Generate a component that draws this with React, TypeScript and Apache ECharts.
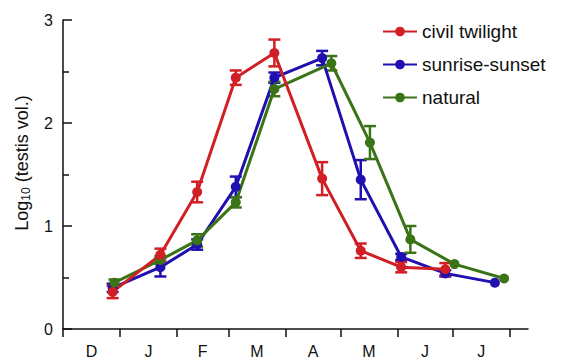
import React, { useEffect, useRef } from "react";
import * as echarts from "echarts";

// Days counted from 1 December
const monthTicks = [0, 31, 62, 90, 121, 151, 182, 212, 243];
const monthMids = [15.5, 46.5, 76, 105.5, 136, 166.5, 197, 227.5];
const monthLabels = ["D", "J", "F", "M", "A", "M", "J", "J"];

const daysRed = [27, 53, 73, 94, 115, 141, 162, 184, 208];
const civilTwilight = [0.36, 0.72, 1.33, 2.44, 2.68, 1.46, 0.76, 0.6, 0.58];
const civilTwilightErr = [0.06, 0.06, 0.1, 0.07, 0.13, 0.16, 0.07, 0.05, 0.06];

const daysBlue = [27, 53, 73, 94, 115, 141, 162, 184, 208, 235];
const sunriseSunset = [0.4, 0.6, 0.82, 1.38, 2.44, 2.63, 1.45, 0.7, 0.54, 0.45];
const sunriseSunsetErr = [0.04, 0.09, 0.05, 0.1, 0.05, 0.07, 0.19, 0.03, 0.03, 0];

const daysGreen = [28, 53, 73, 94, 115, 146, 167, 189, 213, 240];
const natural = [0.45, 0.67, 0.86, 1.23, 2.33, 2.58, 1.81, 0.87, 0.63, 0.49];
const naturalErr = [0.03, 0.04, 0.06, 0.05, 0.07, 0.07, 0.16, 0.13, 0, 0];

const RED = "#d21f26";
const BLUE = "#2010b0";
const GREEN = "#3b7416";
const FONT = "'Liberation Sans', Arial, sans-serif";

function lineSeries(name: string, days: number[], vals: number[], color: string) {
  return {
    name,
    type: "line",
    data: days.map((d, i) => [d, vals[i]]),
    symbol: "circle",
    symbolSize: 10,
    lineStyle: { color, width: 3 },
    itemStyle: { color },
    z: 3,
  };
}

function errSeries(name: string, days: number[], vals: number[], errs: number[], color: string) {
  return {
    name,
    type: "custom",
    data: days.map((d, i) => [d, vals[i], errs[i]]),
    z: 2,
    renderItem: (params: any, api: any) => {
      const x = api.value(0);
      const y = api.value(1);
      const e = api.value(2);
      if (!e) return { type: "group", children: [] };
      const top = api.coord([x, y + e]);
      const bot = api.coord([x, y - e]);
      const hw = 6;
      const style = { stroke: color, lineWidth: 2.5 };
      return {
        type: "group",
        children: [
          { type: "line", shape: { x1: top[0], y1: top[1], x2: bot[0], y2: bot[1] }, style },
          { type: "line", shape: { x1: top[0] - hw, y1: top[1], x2: top[0] + hw, y2: top[1] }, style },
          { type: "line", shape: { x1: bot[0] - hw, y1: bot[1], x2: bot[0] + hw, y2: bot[1] }, style },
        ],
      };
    },
  };
}

export default function App() {
  const ref = useRef<HTMLDivElement>(null);
  useEffect(() => {
    if (!ref.current) return;
    const chart = echarts.init(ref.current, null, { renderer: "svg" });
    chart.setOption({
      animation: false,
      backgroundColor: "#ffffff",
      textStyle: { fontFamily: FONT },
      grid: { left: 63, right: 34, top: 20, bottom: 32, containLabel: false },
      legend: {
        orient: "vertical",
        left: 377,
        top: 17,
        itemGap: 14,
        itemWidth: 34,
        itemHeight: 12,
        data: ["civil twilight", "sunrise-sunset", "natural"],
        textStyle: { fontSize: 19, color: "#111", fontFamily: FONT },
      },
      xAxis: {
        type: "value",
        min: 0,
        max: 253,
        splitLine: { show: false },
        axisLine: { show: true, lineStyle: { color: "#111", width: 1.5 } },
        axisTick: {
          show: true,
          inside: false,
          length: 8,
          customValues: monthTicks,
          lineStyle: { color: "#111", width: 1.5 },
        },
        axisLabel: {
          show: true,
          customValues: monthMids,
          margin: 14,
          fontSize: 16,
          color: "#111",
          fontFamily: FONT,
          formatter: (v: number) => {
            const i = monthMids.findIndex((m) => Math.abs(m - v) < 0.01);
            return i >= 0 ? monthLabels[i] : "";
          },
        },
      },
      yAxis: {
        type: "value",
        min: 0,
        max: 3,
        interval: 1,
        splitLine: { show: false },
        axisLine: { show: true, lineStyle: { color: "#111", width: 1.5 } },
        axisTick: { show: true, inside: true, length: 9, lineStyle: { color: "#111", width: 1.5 } },
        minorTick: { show: true, splitNumber: 2, length: 6, lineStyle: { color: "#111", width: 1.5 } },
        axisLabel: { fontSize: 16, color: "#111", margin: 10, fontFamily: FONT },
      },
      graphic: [
        {
          type: "text",
          x: 22,
          y: 163,
          rotation: Math.PI / 2,
          style: {
            text: "{a|Log}{b|10}{a| (testis vol.)}",
            align: "center",
            verticalAlign: "middle",
            fill: "#111",
            rich: {
              a: { fontSize: 18, fontFamily: FONT, fill: "#111" },
              b: { fontSize: 12, fontFamily: FONT, fill: "#111", padding: [8, 0, 0, 0] },
            },
          },
        },
      ],
      series: [
        errSeries("e-sunrise", daysBlue, sunriseSunset, sunriseSunsetErr, BLUE),
        lineSeries("sunrise-sunset", daysBlue, sunriseSunset, BLUE),
        errSeries("e-natural", daysGreen, natural, naturalErr, GREEN),
        lineSeries("natural", daysGreen, natural, GREEN),
        errSeries("e-civil", daysRed, civilTwilight, civilTwilightErr, RED),
        lineSeries("civil twilight", daysRed, civilTwilight, RED),
      ],
    });
    return () => chart.dispose();
  }, []);
  return <div ref={ref} style={{ width: 562, height: 361, position: "absolute", left: 0, top: 0 }} />;
}
